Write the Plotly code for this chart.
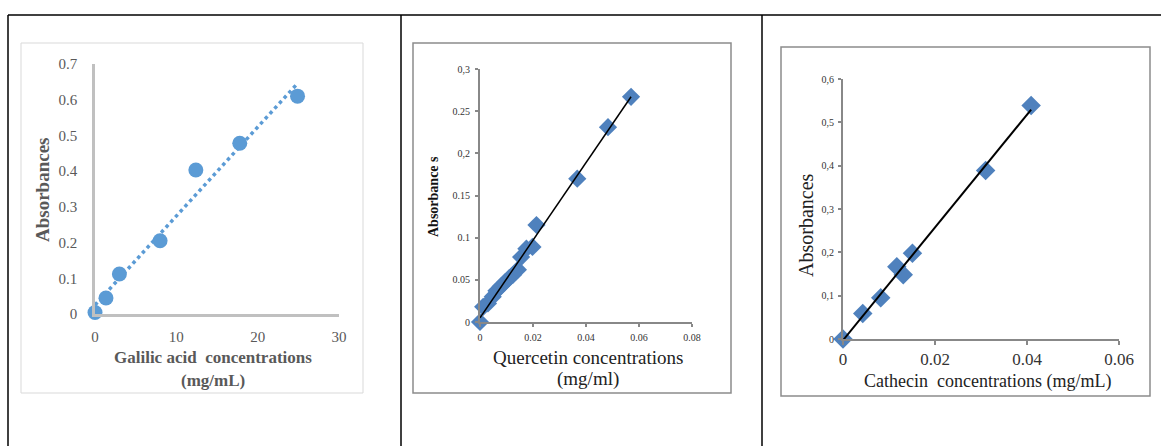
import numpy as np
import plotly.graph_objects as go

W, H = 1161, 446

# ---- data ----
gallic_conc = [0, 1.35, 3.0, 8.0, 12.4, 17.8, 24.9]
gallic_abs = [0.004, 0.045, 0.112, 0.205, 0.403, 0.478, 0.61]

quercetin_conc = [0, 0.0012, 0.003, 0.0048, 0.0062, 0.0078, 0.0094, 0.011, 0.0125,
                  0.0143, 0.0155, 0.0175, 0.0198, 0.0213, 0.0367, 0.0483, 0.057]
quercetin_abs = [0, 0.018, 0.022, 0.03, 0.037, 0.042, 0.047, 0.052, 0.056,
                 0.062, 0.077, 0.087, 0.089, 0.115, 0.17, 0.231, 0.267]

catechin_conc = [0, 0.0043, 0.0082, 0.0117, 0.0131, 0.0151, 0.031, 0.0409]
catechin_abs = [0, 0.059, 0.095, 0.167, 0.148, 0.198, 0.389, 0.539]

p1_yticks = [0, 0.1, 0.2, 0.3, 0.4, 0.5, 0.6, 0.7]
p1_ylabels = ["0", "0.1", "0.2", "0.3", "0.4", "0.5", "0.6", "0.7"]
p1_xticks = [0, 10, 20, 30]
p2_yticks = [0, 0.05, 0.1, 0.15, 0.2, 0.25, 0.3]
p2_ylabels = ["0", "0.05", "0.1", "0.15", "0,2", "0.25", "0,3"]
p2_xticks = [0, 0.02, 0.04, 0.06, 0.08]
p2_xlabels = ["0", "0.02", "0.04", "0.06", "0.08"]
p3_yticks = [0, 0.1, 0.2, 0.3, 0.4, 0.5, 0.6]
p3_ylabels = ["0", "0,1", "0,2", "0,3", "0,4", "0,5", "0,6"]
p3_xticks = [0, 0.02, 0.04, 0.06]
p3_xlabels = ["0", "0.02", "0.04", "0.06"]

FONT = "Liberation Serif, Times New Roman, serif"


def xd(a, b):
    return [a / W, b / W]


def yd(top, bottom):
    return [1 - bottom / H, 1 - top / H]


def fit(x, y):
    k, b = np.polyfit(x, y, 1)
    xs = np.array([min(x), max(x)])
    return xs, k * xs + b


fig = go.Figure()

# panel 1
tx, ty = fit(gallic_conc, gallic_abs)
fig.add_trace(go.Scatter(x=tx, y=ty, mode="lines", xaxis="x", yaxis="y",
                         line=dict(color="#5b9bd5", width=3.5, dash="dot"),
                         showlegend=False, cliponaxis=False))
fig.add_trace(go.Scatter(x=gallic_conc, y=gallic_abs, mode="markers", xaxis="x", yaxis="y",
                         marker=dict(color="#5b9bd5", size=15, symbol="circle"),
                         showlegend=False, cliponaxis=False))

# panel 2
tx, ty = fit(quercetin_conc, quercetin_abs)
fig.add_trace(go.Scatter(x=quercetin_conc, y=quercetin_abs, mode="markers", xaxis="x2", yaxis="y2",
                         marker=dict(color="#4f81bd", size=14, symbol="diamond"),
                         showlegend=False, cliponaxis=False))
fig.add_trace(go.Scatter(x=tx, y=ty, mode="lines", xaxis="x2", yaxis="y2",
                         line=dict(color="black", width=1.5),
                         showlegend=False, cliponaxis=False))

# panel 3
tx, ty = fit(catechin_conc, catechin_abs)
fig.add_trace(go.Scatter(x=catechin_conc, y=catechin_abs, mode="markers", xaxis="x3", yaxis="y3",
                         marker=dict(color="#4f81bd", size=15, symbol="diamond"),
                         showlegend=False, cliponaxis=False))
fig.add_trace(go.Scatter(x=tx, y=ty, mode="lines", xaxis="x3", yaxis="y3",
                         line=dict(color="black", width=2),
                         showlegend=False, cliponaxis=False))

common = dict(showgrid=False, zeroline=False, showline=True, fixedrange=True,
              automargin=False)

layout = dict(
    width=W, height=H, margin=dict(l=0, r=0, t=0, b=0, autoexpand=False),
    paper_bgcolor="white", plot_bgcolor="white",
    font=dict(family=FONT, color="#404040"),
    xaxis=dict(domain=xd(95, 339), range=[0, 30], anchor="y", tickvals=p1_xticks,
               linecolor="#c0c0c0", linewidth=2.5, ticks="", ticklabelstandoff=7,
               tickfont=dict(size=15, color="#595959"), **common),
    yaxis=dict(domain=yd(64, 314), range=[0, 0.7], anchor="x", tickvals=p1_yticks,
               ticktext=p1_ylabels, linecolor="#c0c0c0", linewidth=2.5, ticks="",
               ticklabelstandoff=12, tickfont=dict(size=15, color="#595959"), **common),
    xaxis2=dict(domain=xd(480, 692), range=[0, 0.08], anchor="y2", tickvals=p2_xticks,
                ticktext=p2_xlabels, linecolor="#888888", linewidth=2, ticks="outside",
                ticklen=3, tickcolor="#888888", tickwidth=1.5, ticklabelstandoff=2,
                tickfont=dict(size=10, color="#333333"), **common),
    yaxis2=dict(domain=yd(69, 322), range=[0, 0.3], anchor="x2", tickvals=p2_yticks,
                ticktext=p2_ylabels, linecolor="#888888", linewidth=2, ticks="outside",
                ticklen=3, tickcolor="#888888", tickwidth=1.5, ticklabelstandoff=3,
                tickfont=dict(size=10, color="#333333"), **common),
    xaxis3=dict(domain=xd(843, 1119), range=[0, 0.06], anchor="y3", tickvals=p3_xticks,
                ticktext=p3_xlabels, linecolor="#888888", linewidth=2, ticks="outside",
                ticklen=4, tickcolor="#888888", tickwidth=1.5, ticklabelstandoff=0,
                tickfont=dict(size=17, color="#333333"), **common),
    yaxis3=dict(domain=yd(79, 339), range=[0, 0.6], anchor="x3", tickvals=p3_yticks,
                ticktext=p3_ylabels, linecolor="#888888", linewidth=2, ticks="outside",
                ticklen=3, tickcolor="#888888", tickwidth=1.5, ticklabelstandoff=2,
                tickfont=dict(size=10, color="#333333"), **common),
)
fig.update_layout(**layout)

# table lines and chart frames
shapes = []
def pline(x0, y0, x1, y1, color, width):
    shapes.append(dict(type="line", xref="paper", yref="paper",
                       x0=x0 / W, x1=x1 / W, y0=1 - y0 / H, y1=1 - y1 / H,
                       line=dict(color=color, width=width)))

def prect(x0, y0, x1, y1, color, width):
    shapes.append(dict(type="rect", xref="paper", yref="paper",
                       x0=x0 / W, x1=x1 / W, y0=1 - y1 / H, y1=1 - y0 / H,
                       line=dict(color=color, width=width), layer="below"))

pline(8, 15, W, 15, "black", 1.5)
pline(8, 15, 8, H, "black", 1.5)
pline(401, 15, 401, H, "black", 1.5)
pline(762, 15, 762, H, "black", 1.5)
prect(21, 43, 363, 393, "#d9d9d9", 1)
prect(413, 43, 731, 393, "#8c8c8c", 1.5)
prect(781, 47, 1150, 396, "#8c8c8c", 1.5)
fig.update_layout(shapes=shapes)

ann = []
def text(x, y, s, size, color, angle=0):
    ann.append(dict(xref="paper", yref="paper", x=x / W, y=1 - y / H, text=s,
                    showarrow=False, textangle=angle, xanchor="center", yanchor="middle",
                    font=dict(family=FONT, size=size, color=color)))

text(42, 190, "<b>Absorbances</b>", 19, "#595959", -90)
text(213, 357, "<b>Galilic acid  concentrations</b>", 17, "#595959")
text(213, 380, "<b>(mg/mL)</b>", 17, "#595959")

text(433, 197, "<b>Absorbance s</b>", 14, "#111111", -90)
text(588, 357, "Quercetin concentrations", 19, "#222222")
text(588, 379, "(mg/ml)", 19, "#222222")

text(806, 225, "Absorbances", 20, "#222222", -90)
text(988, 381, "Cathecin  concentrations (mg/mL)", 18, "#222222")
fig.update_layout(annotations=ann)

fig.write_html("out.html", config={"displayModeBar": False},
               post_script="document.body.style.margin='0';")
